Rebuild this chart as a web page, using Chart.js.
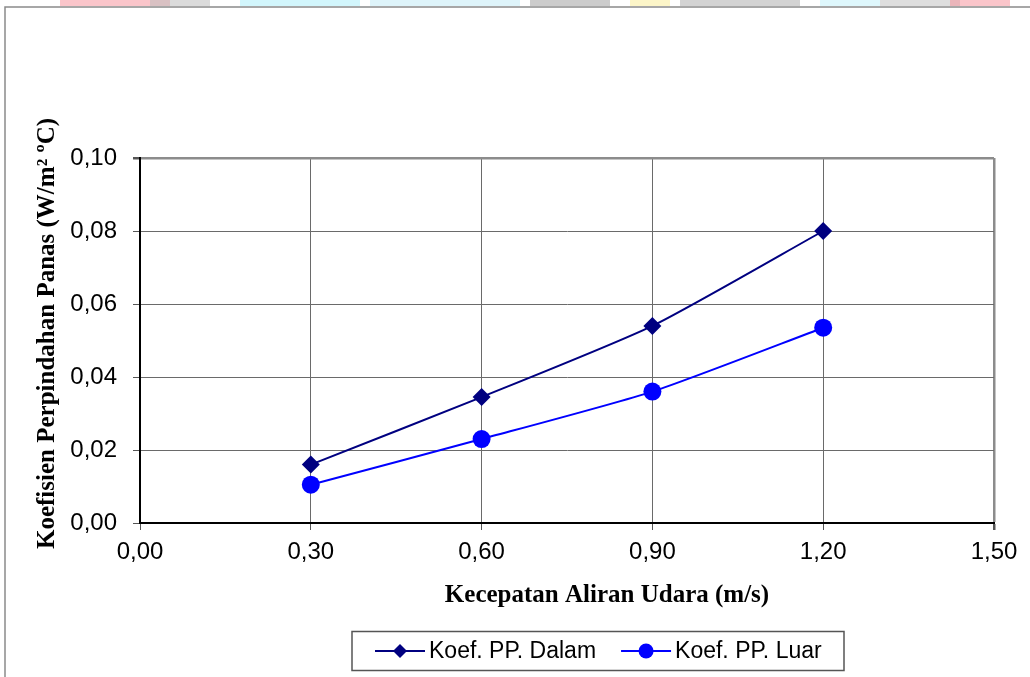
<!DOCTYPE html>
<html>
<head>
<meta charset="utf-8">
<script src="https://cdn.jsdelivr.net/npm/chart.js@4.4.1/dist/chart.umd.min.js"></script>
<style>
  html, body { margin: 0; padding: 0; background: #fff; }
  #wrap { width: 1030px; height: 677px; position: relative; }
</style>
</head>
<body>
<div id="wrap"><canvas id="c" width="1030" height="677"></canvas></div>
<script>
// Air velocity (m/s) and heat transfer coefficients
const kecepatan = [0.30, 0.60, 0.90, 1.20];
const koefDalam = [0.016, 0.0345, 0.054, 0.080];
const koefLuar  = [0.0105, 0.023, 0.036, 0.0535];

const seriesNames = ['Koef. PP. Dalam', 'Koef. PP. Luar'];
const xTitle = 'Kecepatan Aliran Udara (m/s)';
const yTitle = 'Koefisien Perpindahan Panas (W/m\u00B2 \u00BAC)';

const fmt = v => Number(v).toFixed(2).replace('.', ',');
const toPoints = ys => kecepatan.map((x, i) => ({ x: x, y: ys[i] }));

// Page frame and the faint header strip above it
const framePlugin = {
  id: 'frame',
  beforeDraw(chart) {
    const ctx = chart.ctx;
    ctx.save();
    ctx.fillStyle = '#fff';
    ctx.fillRect(0, 0, chart.width, chart.height);
    const blocks = [
      [60, 110, 'rgba(245,140,150,0.5)'], [150, 60, 'rgba(190,190,190,0.55)'],
      [240, 120, 'rgba(180,240,250,0.6)'], [370, 150, 'rgba(195,235,245,0.55)'],
      [530, 80, 'rgba(170,170,170,0.6)'], [630, 40, 'rgba(250,240,170,0.65)'],
      [680, 120, 'rgba(175,175,175,0.55)'], [820, 60, 'rgba(195,240,250,0.55)'],
      [880, 80, 'rgba(190,190,190,0.5)'], [950, 60, 'rgba(245,140,150,0.5)']
    ];
    blocks.forEach(b => { ctx.fillStyle = b[2]; ctx.fillRect(b[0], 0, b[1], 6); });
    ctx.strokeStyle = '#8a8a8a';
    ctx.lineWidth = 1.5;
    ctx.beginPath();
    ctx.moveTo(5, chart.height);
    ctx.lineTo(5, 7);
    ctx.lineTo(chart.width, 7);
    ctx.stroke();
    ctx.restore();
  }
};

// Axis titles in bold serif
const titlesPlugin = {
  id: 'titles',
  afterDraw(chart) {
    const ctx = chart.ctx;
    const a = chart.chartArea;
    ctx.save();
    ctx.fillStyle = '#000';
    ctx.font = 'bold 25px "Liberation Serif", "Times New Roman", serif';
    ctx.textAlign = 'center';
    ctx.textBaseline = 'middle';
    ctx.fillText(xTitle, (a.left + a.right) / 2 + 40, a.bottom + 73);
    ctx.translate(48, (a.top + a.bottom) / 2 - 7);
    ctx.rotate(-Math.PI / 2);
    ctx.fillText(yTitle, 0, 0);
    ctx.restore();
  }
};

// Boxed legend with line-and-marker samples
const legendPlugin = {
  id: 'boxLegend',
  afterDraw(chart) {
    const ctx = chart.ctx;
    const a = chart.chartArea;
    const cx = (a.left + a.right) / 2 + 31;
    const cy = a.bottom + 128;
    const boxW = 492, boxH = 39;
    ctx.save();
    ctx.fillStyle = '#fff';
    ctx.fillRect(cx - boxW / 2, cy - boxH / 2, boxW, boxH);
    ctx.strokeStyle = '#555';
    ctx.lineWidth = 1.5;
    ctx.strokeRect(cx - boxW / 2, cy - boxH / 2, boxW, boxH);
    ctx.font = '23px "Liberation Sans", Arial, sans-serif';
    ctx.textBaseline = 'middle';
    ctx.textAlign = 'left';
    let x = cx - boxW / 2 + 23;
    chart.data.datasets.forEach(ds => {
      ctx.strokeStyle = ds.borderColor;
      ctx.lineWidth = 2;
      ctx.beginPath();
      ctx.moveTo(x, cy);
      ctx.lineTo(x + 50, cy);
      ctx.stroke();
      ctx.fillStyle = ds.pointBackgroundColor;
      ctx.beginPath();
      if (ds.pointStyle === 'rectRot') {
        ctx.moveTo(x + 25, cy - 7); ctx.lineTo(x + 32, cy);
        ctx.lineTo(x + 25, cy + 7); ctx.lineTo(x + 18, cy);
      } else {
        ctx.arc(x + 25, cy, 7.5, 0, Math.PI * 2);
      }
      ctx.closePath();
      ctx.fill();
      ctx.fillStyle = '#000';
      ctx.fillText(ds.label, x + 54, cy + 1);
      x += 54 + ctx.measureText(ds.label).width + 25;
    });
    ctx.restore();
  }
};

const gridColor = '#6a6a6a';
const edgeColor = '#8c8c8c';

new Chart(document.getElementById('c'), {
  type: 'line',
  data: {
    datasets: [
      {
        label: seriesNames[0],
        data: toPoints(koefDalam),
        borderColor: '#000080',
        backgroundColor: '#000080',
        pointBackgroundColor: '#000080',
        pointBorderColor: '#000080',
        pointStyle: 'rectRot',
        pointRadius: 9,
        pointBorderWidth: 0,
        borderWidth: 2,
        tension: 0.2,
        fill: false
      },
      {
        label: seriesNames[1],
        data: toPoints(koefLuar),
        borderColor: '#0000ff',
        backgroundColor: '#0000ff',
        pointBackgroundColor: '#0000ff',
        pointBorderColor: '#0000ff',
        pointStyle: 'circle',
        pointRadius: 9,
        pointBorderWidth: 0,
        borderWidth: 2,
        tension: 0.2,
        fill: false
      }
    ]
  },
  options: {
    responsive: false,
    animation: false,
    devicePixelRatio: 1,
    layout: { padding: { top: 158, right: 36, left: 0, bottom: 0 } },
    plugins: {
      legend: { display: false },
      tooltip: { enabled: false },
      title: { display: false }
    },
    scales: {
      x: {
        type: 'linear',
        min: 0,
        max: 1.5,
        ticks: {
          stepSize: 0.3,
          padding: 8,
          color: '#000',
          font: { family: '"Liberation Sans", Arial, sans-serif', size: 24 },
          callback: v => fmt(v),
          maxRotation: 0,
          autoSkip: false
        },
        grid: {
          color: ctx => ctx.index === 5 ? edgeColor : gridColor,
          lineWidth: ctx => ctx.index === 5 ? 2.5 : 1,
          tickLength: 7,
          tickColor: '#555'
        },
        border: { color: '#000', width: 2 },
        afterFit: s => { s.height = 154; }
      },
      y: {
        min: 0,
        max: 0.1,
        ticks: {
          stepSize: 0.02,
          padding: 16,
          color: '#000',
          font: { family: '"Liberation Sans", Arial, sans-serif', size: 24 },
          callback: v => fmt(v)
        },
        grid: {
          color: ctx => ctx.index === 5 ? edgeColor : gridColor,
          lineWidth: ctx => ctx.index === 5 ? 2.5 : 1,
          tickLength: 7,
          tickColor: '#555'
        },
        border: { color: '#000', width: 2 },
        afterFit: s => { s.width = 140; }
      }
    }
  },
  plugins: [framePlugin, titlesPlugin, legendPlugin]
});
</script>
</body>
</html>
